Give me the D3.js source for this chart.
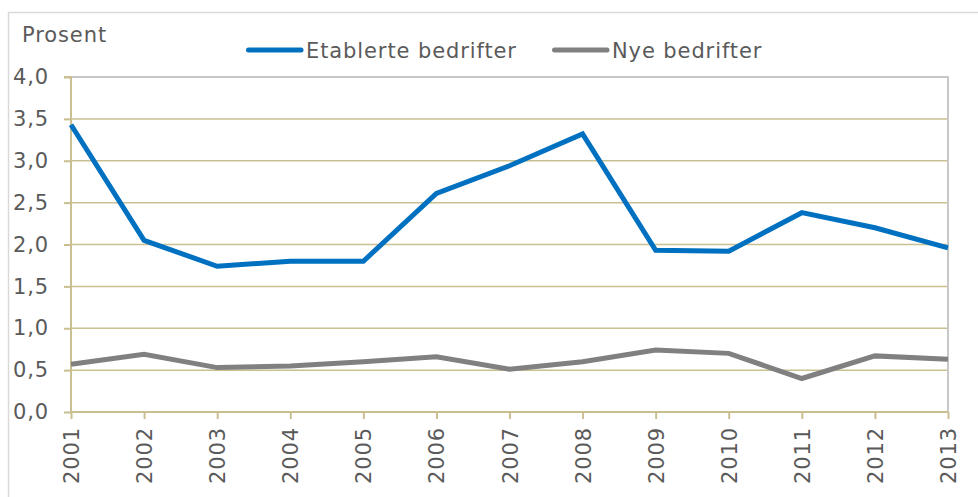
<!DOCTYPE html>
<html>
<head>
<meta charset="utf-8">
<script src="https://cdn.jsdelivr.net/npm/d3@7"></script>
<style>
  body { margin: 0; background: #fff; }
  svg text { font-family: "DejaVu Sans", Verdana, sans-serif; fill: #5a5a5a; letter-spacing: 0.9px; }
</style>
</head>
<body>
<svg width="978" height="497"></svg>
<script>
const years = ["2001","2002","2003","2004","2005","2006","2007","2008","2009","2010","2011","2012","2013"];
const etablerte = [3.43, 2.05, 1.74, 1.80, 1.80, 2.61, 2.94, 3.32, 1.93, 1.92, 2.38, 2.20, 1.96];
const nye = [0.57, 0.69, 0.53, 0.55, 0.60, 0.66, 0.51, 0.60, 0.74, 0.70, 0.40, 0.67, 0.63];
const yTicks = [0, 0.5, 1, 1.5, 2, 2.5, 3, 3.5, 4];
const seriesNames = ["Etablerte bedrifter", "Nye bedrifter"];
const colors = ["#0070c0", "#808080"];

const grid = "#c9bf91";
const fontSize = 21;
const svg = d3.select("svg");

// outer frame (only top and left edges are in view)
svg.append("path")
    .attr("d", "M8.5,497V12.5H978")
    .attr("fill", "none")
    .attr("stroke", "#d9d9d9")
    .attr("stroke-width", 1.5);

const x = d3.scalePoint().domain(years).range([71, 948]);
const y = d3.scaleLinear().domain([0, 4]).range([412, 77]);

// gridlines
svg.append("g").selectAll("line")
    .data(yTicks.slice(1))
    .join("line")
    .attr("x1", 71).attr("x2", 948)
    .attr("y1", d => y(d)).attr("y2", d => y(d))
    .attr("stroke", grid)
    .attr("stroke-width", 1.5);

// plot border top/right
svg.append("path")
    .attr("d", `M71,${y(4)}H${x("2013")}V${y(0)}`)
    .attr("fill", "none")
    .attr("stroke", "#c8c8c8")
    .attr("stroke-width", 2);

const fmt = d => d3.format(".1f")(d).replace(".", ",");

const axisLeft = d3.axisLeft(y).tickValues(yTicks).tickFormat(fmt).tickSize(7).tickPadding(15);
const gy = svg.append("g").attr("transform", "translate(71,0)").call(axisLeft);
gy.select(".domain").attr("stroke", grid).attr("stroke-width", 2).attr("d", `M-7,${y(4)}H0V${y(0)}`);
gy.selectAll(".tick line").attr("stroke", grid).attr("stroke-width", 2);
gy.selectAll(".tick text").attr("font-size", fontSize).attr("fill", "#5a5a5a");

const axisBottom = d3.axisBottom(x).tickSize(7);
const gx = svg.append("g").attr("transform", `translate(0,${y(0)})`).call(axisBottom);
gx.select(".domain").attr("stroke", grid).attr("stroke-width", 2).attr("d", `M71,0H${x("2013")}`);
gx.selectAll(".tick line").attr("stroke", grid).attr("stroke-width", 2);
gx.selectAll(".tick text")
    .attr("font-size", fontSize)
    .attr("fill", "#5a5a5a")
    .attr("text-anchor", "end")
    .attr("transform", "rotate(-90)")
    .attr("x", -15)
    .attr("y", 0)
    .attr("dy", "0.36em");

// series lines
const line = d3.line().x((d, i) => x(years[i])).y(d => y(d));
[etablerte, nye].forEach((s, k) => {
  svg.append("path")
      .datum(s)
      .attr("d", line)
      .attr("fill", "none")
      .attr("stroke", colors[k])
      .attr("stroke-width", 5)
      .attr("stroke-linejoin", "miter");
});

// title
svg.append("text")
    .attr("x", 22).attr("y", 42)
    .attr("font-size", fontSize)
    .attr("letter-spacing", "1px")
    .text("Prosent");

// legend
const legendX = [246, 552];
seriesNames.forEach((name, k) => {
  const g = svg.append("g").attr("transform", `translate(${legendX[k]},50)`);
  g.append("line")
      .attr("x1", 2.5).attr("x2", 55)
      .attr("stroke", colors[k])
      .attr("stroke-width", 5)
      .attr("stroke-linecap", "round");
  g.append("text")
      .attr("x", 60).attr("y", 8)
      .attr("font-size", fontSize)
      .text(name);
});
</script>
</body>
</html>
